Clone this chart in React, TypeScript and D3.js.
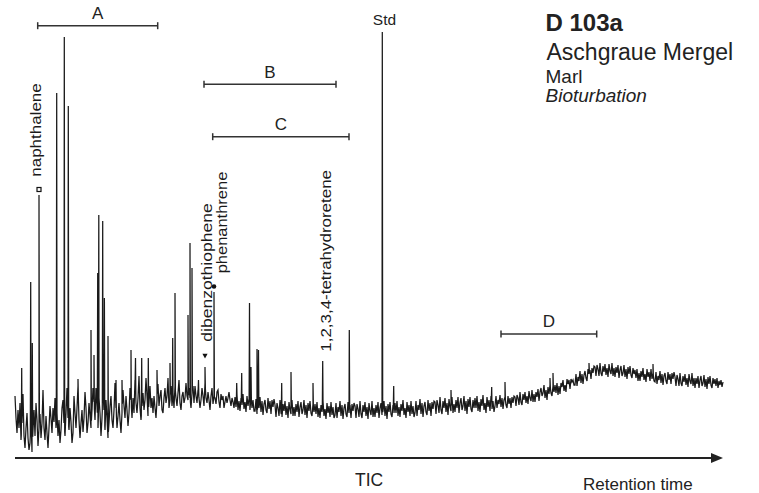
import React from 'react';
import * as d3 from 'd3';

const W = 759;
const H = 493;

// Total ion current trace, one sample per retention unit (rt 0 .. 708)
const STEP = 1;
const TRACE: number[] = [
  62, 40, 25, 48, 30, 55, 18, 35, 64, 22, 10, 30, 45, 20, 8, 15, 40, 6, 28, 48,
  22, 55, 38, 12, 30, 44, 20, 35, 68, 30, 18, 42, 25, 10, 30, 52, 40, 25, 50, 36,
  60, 30, 45, 22, 38, 15, 28, 50, 58, 35, 22, 45, 70, 40, 28, 50, 36, 15, 25, 62,
  45, 30, 50, 72, 38, 20, 35, 48, 26, 40, 66, 50, 25, 35, 55, 42, 30, 48, 70, 56,
  38, 70, 52, 30, 60, 45, 22, 40, 65, 48, 28, 58, 40, 20, 35, 52, 62, 38, 30, 48,
  75, 50, 30, 42, 55, 38, 25, 45, 68, 52, 40, 62, 48, 32, 45, 70, 58, 40, 60, 45,
  78, 55, 45, 60, 82, 50, 38, 52, 65, 48, 58, 80, 62, 42, 55, 72, 50, 60, 45, 62,
  50, 40, 58, 74, 52, 62, 68, 48, 45, 60, 70, 55, 62, 80, 50, 58, 72, 52, 65, 50,
  72, 60, 52, 65, 78, 55, 48, 62, 66, 55, 60, 75, 62, 58, 70, 60, 50, 65, 72, 55,
  72, 62, 55, 68, 60, 50, 58, 70, 62, 52, 75, 60, 55, 66, 58, 48, 62, 70, 54, 62,
  60, 54, 66, 68, 56, 50, 64, 58, 62, 50, 56, 62, 55, 60, 66, 58, 52, 60, 56, 50,
  61, 51, 63, 48, 57, 47, 60, 53, 64, 49, 56, 46, 62, 52, 59, 48, 63, 50, 58, 47,
  47, 59, 44, 55, 50, 61, 46, 57, 43, 54, 58, 48, 45, 60, 49, 57, 44, 58, 51, 59,
  53, 41, 55, 50, 42, 58, 45, 41, 54, 47, 57, 43, 52, 40, 56, 48, 44, 58, 42, 51,
  42, 54, 46, 57, 41, 51, 56, 44, 48, 58, 43, 53, 40, 55, 47, 57, 45, 42, 54, 46,
  54, 44, 56, 41, 50, 40, 53, 46, 57, 42, 49, 39, 55, 45, 52, 41, 56, 43, 51, 40,
  43, 55, 40, 51, 46, 57, 42, 53, 39, 50, 54, 44, 41, 56, 45, 53, 40, 54, 47, 55,
  52, 40, 54, 49, 41, 57, 44, 40, 53, 46, 56, 42, 51, 39, 55, 47, 43, 57, 41, 50,
  41, 53, 45, 56, 40, 50, 55, 43, 47, 57, 42, 52, 39, 54, 46, 56, 44, 41, 53, 45,
  55, 45, 57, 42, 51, 41, 54, 47, 58, 43, 50, 40, 56, 46, 53, 42, 57, 44, 52, 41,
  45, 57, 42, 53, 48, 59, 44, 55, 41, 52, 56, 46, 43, 58, 47, 55, 42, 56, 49, 57,
  56, 44, 58, 53, 45, 61, 48, 44, 57, 50, 60, 46, 55, 43, 59, 51, 47, 61, 45, 54,
  46, 58, 50, 61, 45, 55, 60, 48, 52, 62, 47, 57, 44, 59, 51, 61, 49, 46, 58, 50,
  60, 50, 62, 47, 56, 46, 59, 52, 63, 48, 55, 45, 61, 51, 58, 47, 62, 49, 57, 46,
  52, 62, 50, 58, 54, 63, 51, 60, 49, 58, 61, 53, 50, 62, 54, 60, 50, 61, 55, 62,
  61, 52, 63, 60, 53, 66, 56, 53, 64, 58, 66, 55, 62, 54, 67, 60, 57, 68, 56, 64,
  56, 66, 61, 69, 57, 66, 70, 62, 65, 73, 60, 68, 58, 71, 64, 73, 65, 62, 72, 66,
  73, 65, 75, 63, 72, 64, 75, 71, 78, 67, 73, 66, 79, 74, 78, 69, 79, 76, 78, 73,
  73, 84, 72, 81, 77, 87, 75, 84, 74, 83, 87, 80, 77, 89, 84, 88, 79, 90, 85, 92,
  91, 82, 93, 89, 82, 95, 85, 82, 92, 86, 94, 83, 90, 81, 94, 87, 84, 95, 82, 90,
  81, 91, 85, 93, 80, 88, 92, 82, 85, 93, 81, 89, 79, 91, 84, 92, 83, 80, 90, 84,
  88, 80, 89, 77, 85, 77, 87, 81, 90, 78, 84, 76, 89, 81, 86, 77, 89, 79, 85, 77,
  76, 86, 74, 82, 78, 87, 75, 84, 73, 82, 85, 77, 74, 86, 78, 84, 74, 85, 79, 86,
  81, 72, 83, 79, 72, 85, 75, 72, 82, 76, 84, 73, 80, 71, 84, 77, 74, 85, 72, 80,
  70, 80, 74, 82, 70, 78, 82, 72, 75, 83, 71, 79, 69, 81, 74, 82, 73, 70, 80, 74,
  79, 72, 80, 70, 77, 73, 78, 71, 76,
];

// Sharp peaks: [retention, intensity]
const PEAKS: [number, number][] = [
  [6.7, 90], [15.7, 176], [17.3, 115], [24, 263], [41.7, 365], [49.3, 421], [53.3, 352],
  [63, 79], [76, 128], [79, 103], [82.7, 185], [83.8, 243], [87.7, 237], [89.4, 160],
  [93, 122], [101, 78], [107, 78], [116, 108], [120.5, 100], [126.7, 100], [133.3, 100],
  [142, 88], [155, 95], [157.7, 120], [160, 165], [173, 143], [175, 215], [177, 190],
  [183.5, 78], [190, 91], [199, 166], [221.7, 75], [226.7, 85], [234.5, 155], [236, 91],
  [242, 109], [243.5, 108], [266.7, 75], [276, 86], [298, 75], [307.7, 97], [334.3, 128],
  [367.3, 426], [378.7, 72], [436, 68], [476.7, 71], [490, 76], [535, 80], [538, 85],
  [574, 95], [638, 94],
];

const RANGE_LABELS = ['A', 'B', 'C', 'D'];
const RANGE_FROM = [22.7, 189, 197.7, 486];
const RANGE_TO = [142.7, 321, 334, 581.7];

const COMPOUNDS = ['naphthalene', 'dibenzothiophene', 'phenanthrene', '1,2,3,4-tetrahydroretene'];
const COMPOUND_RT = [24, 190, 199, 307.7];
const COMPOUND_MARK = ['square', 'triangle', 'circle', 'none'];
const STD_RT = 367.3;

const TITLE = ['D 103a', 'Aschgraue Mergel', 'Marl', 'Bioturbation'];

// layout
const RANGE_Y = [25.7, 84.3, 136.7, 334];
const LABEL_DX = [1.8, 6.5, 12.8, 8.2];
const LABEL_BOTTOM = [176.7, 341.7, 273.3, 351.7];
const LABEL_LEN = [93.4, 138.4, 101.6, 181.7];
const MARK_UP = [5.5, 11, 5.5, 0];

const FONT = "'Liberation Sans', Arial, Helvetica, sans-serif";

export default function App() {
  const x = d3.scaleLinear().domain([0, 708]).range([15, 723]);
  const y = d3.scaleLinear().domain([0, 430]).range([458, 28]);

  const base = (t: number) => {
    const i = Math.max(0, Math.min(TRACE.length - 1, t / STEP));
    const i0 = Math.floor(i);
    const i1 = Math.min(i0 + 1, TRACE.length - 1);
    const f = i - i0;
    return TRACE[i0] * (1 - f) + TRACE[i1] * f;
  };
  const pts: [number, number][] = TRACE.map((v, i) => [i * STEP, v]);
  PEAKS.forEach(([t, h]) => {
    pts.push([t - 0.4, base(t - 0.4)], [t, h], [t + 0.4, base(t + 0.4)]);
  });
  pts.sort((a, b) => a[0] - b[0]);
  const line = d3.line<[number, number]>().x(d => x(d[0])).y(d => y(d[1]));

  const peakH = (t: number) => {
    let best = PEAKS[0];
    PEAKS.forEach(p => { if (Math.abs(p[0] - t) < Math.abs(best[0] - t)) best = p; });
    return best[1];
  };

  return (
    <svg width={W} height={H} style={{ position: 'absolute', left: 0, top: 0, display: 'block', background: '#fff' }}
      fontFamily={FONT}>
      <path d={line(pts) || ''} fill="none" stroke="#1a1a1a" strokeWidth={1.25} strokeLinejoin="miter" />
      {/* axis */}
      <line x1={15} x2={712} y1={458} y2={458} stroke="#222" strokeWidth={1.8} />
      <polygon points="711,453 723,458 711,463" fill="#222" />
      <text x={355} y={486} fontSize={17.5} fill="#222">TIC</text>
      <text x={583} y={489.5} fontSize={17} fill="#222">Retention time</text>

      {/* ranges */}
      {RANGE_LABELS.map((lab, i) => {
        const x1 = x(RANGE_FROM[i]);
        const x2 = x(RANGE_TO[i]);
        const yy = RANGE_Y[i];
        return (
          <g key={lab}>
            <line x1={x1} x2={x2} y1={yy} y2={yy} stroke="#333" strokeWidth={1.5} />
            <line x1={x1} x2={x1} y1={yy - 3.5} y2={yy + 3.5} stroke="#333" strokeWidth={1.5} />
            <line x1={x2} x2={x2} y1={yy - 3.5} y2={yy + 3.5} stroke="#333" strokeWidth={1.5} />
            <text x={(x1 + x2) / 2} y={yy - 6.7} fontSize={17} textAnchor="middle" fill="#222">{lab}</text>
          </g>
        );
      })}

      {/* compounds */}
      {COMPOUNDS.map((name, i) => {
        const px = x(COMPOUND_RT[i]);
        const py = y(peakH(COMPOUND_RT[i]));
        const my = py - MARK_UP[i];
        const m = COMPOUND_MARK[i];
        return (
          <g key={name}>
            {m === 'square' && <rect x={px - 2} y={my - 2} width={4} height={4} fill="#fff" stroke="#111" strokeWidth={1.2} />}
            {m === 'triangle' && <polygon points={`${px - 2.6},${my - 2.2} ${px + 2.6},${my - 2.2} ${px},${my + 2.4}`} fill="#111" />}
            {m === 'circle' && <circle cx={px} cy={my} r={2.3} fill="#111" />}
            <text transform={`translate(${px + LABEL_DX[i]},${LABEL_BOTTOM[i]}) rotate(-90) scale(1,0.82)`}
              fontSize={17} fill="#1a1a1a" textLength={LABEL_LEN[i]} lengthAdjust="spacingAndGlyphs">{name}</text>
          </g>
        );
      })}
      <text x={x(STD_RT) - 9.5} y={25} fontSize={15.5} fill="#222">Std</text>

      {/* title */}
      <text x={545.5} y={30.7} fontSize={24} fontWeight="bold" fill="#222">{TITLE[0]}</text>
      <text x={546.5} y={60} fontSize={23} fill="#222">{TITLE[1]}</text>
      <text x={545.5} y={83.3} fontSize={19} fill="#222">{TITLE[2]}</text>
      <text x={545.5} y={101.7} fontSize={19} fontStyle="italic" fill="#222">{TITLE[3]}</text>
    </svg>
  );
}
